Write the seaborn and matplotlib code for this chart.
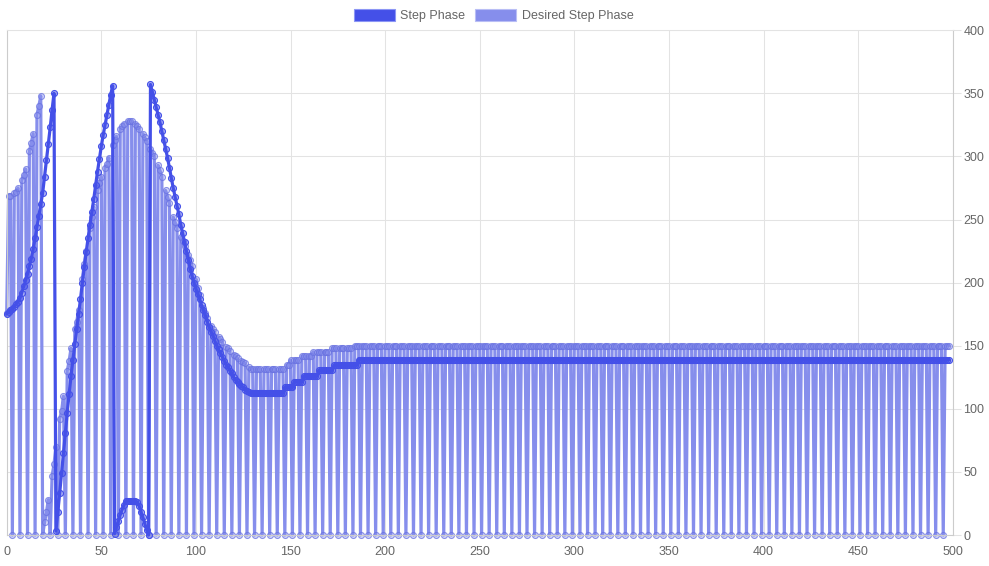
import matplotlib
matplotlib.use("Agg")
import matplotlib.pyplot as plt
from matplotlib.patches import Patch
import seaborn as sns
import pandas as pd

# ---------------- data ----------------
step_phase = (
    [175, 177, 178, 179, 181, 183, 185, 188, 192, 197,
     202, 207, 213, 219, 227, 235, 244, 253, 262, 271,
     284, 297, 310, 323, 337, 350, 3, 18, 33, 49,
     65, 81, 97, 112, 126, 139, 151, 163, 175, 187,
     200, 212, 224, 235, 246, 256, 266, 277, 288, 298,
     308, 317, 325, 333, 341, 349, 356, 1, 6, 11,
     16, 20, 24, 27, 27, 27, 27, 27, 27, 26,
     23, 18, 14, 9, 4, 0, 357, 351, 345, 339,
     333, 327, 320, 313, 306, 299, 291, 283, 275, 268,
     261, 254, 246, 239, 232, 225, 218, 211, 205, 200,
     195, 191, 187, 182, 178, 174, 169, 165, 161, 158,
     154, 150, 147, 144, 141, 138, 135, 133, 130, 128,
     125, 123, 121, 120, 118, 117, 115, 114, 113]
    + [112.5] * 18      # 129-146
    + [117] * 5         # 147-151
    + [121.5] * 5       # 152-156
    + [126] * 8         # 157-164
    + [130.5] * 8       # 165-172
    + [134.5] * 13      # 173-185
    + [139] * 313       # 186-498
)

desired_step_phase = (
    [176, 269, 269, 0,   271, 272, 275, 0,   281, 285, 290, 0,
     304, 311, 318, 0,   333, 340, 348, 0,   10, 18, 28, 0,
     47, 56, 70, 0,      92, 98, 110, 0,     130, 138, 148, 0,
     163, 169, 178, 0,   203, 215, 225, 0,   243, 252, 260, 0,
     273, 279, 284, 0,   291, 294, 299, 0,   309, 313, 316, 0,
     322, 324, 326, 0,   328, 328, 328, 0,   326, 324, 322, 0,
     318, 315, 312, 0,   306, 303, 300, 0,   293, 289, 284, 0,
     273, 268, 263, 0,   252, 248, 243, 0,   236, 233, 229, 0,
     222, 218, 213, 0,   203, 196, 190, 0,   180, 176, 172, 0,
     166, 163, 161, 0,   157, 155, 153, 0,   149, 148, 146, 0,
     143, 142, 140, 0,   138, 137, 136, 0,   133, 131.5, 131.5, 0,
     131.5, 131.5, 131.5, 0,   131.5, 131.5, 131.5, 0,
     131.5, 131.5, 131.5, 0,   131.5, 131.5, 131.5, 0,
     134.7, 134.7, 138.7, 0,   138.7, 138.7, 138.7, 0,
     141.8, 141.8, 141.8, 0,   141.8, 141.8, 145.2, 0,
     145.2, 145.2, 145.2, 0,   145.2, 145.2, 145.2, 0,
     148, 148, 148, 0,   148, 148, 148, 0,   148, 148, 148, 0,
     150, 150, 150, 0]
    + [150, 150, 150, 0] * 77
    + [150, 150, 150]
)

sample = list(range(len(step_phase)))

series_labels = ["Step Phase", "Desired Step Phase"]
x_ticks = [0, 50, 100, 150, 200, 250, 300, 350, 400, 450, 500]
y_ticks = [0, 50, 100, 150, 200, 250, 300, 350, 400]

df_step = pd.DataFrame({"x": sample, "y": step_phase})
df_des = pd.DataFrame({"x": sample, "y": desired_step_phase})

# ---------------- styling ----------------
sns.set_theme(style="white")
plt.rcParams["font.family"] = ["Liberation Sans", "DejaVu Sans"]

STEP = (68 / 255, 80 / 255, 232 / 255)
STEP_FACE = (68 / 255, 80 / 255, 232 / 255, 0.45)
DES = (134 / 255, 142 / 255, 236 / 255)
DES_EDGE = (105 / 255, 114 / 255, 225 / 255, 0.75)
DES_FACE = (134 / 255, 142 / 255, 236 / 255, 0.35)
GRID = "#e3e3e3"
TXT = "#666666"

fig = plt.figure(figsize=(9.89, 5.66), dpi=100)
ax = fig.add_axes([6.7 / 989, 31 / 566, 946 / 989, 504.8 / 566])

sns.lineplot(data=df_des, x="x", y="y", ax=ax, color=DES, linewidth=2.3,
             marker="o", markersize=4.3, markeredgewidth=0.8,
             markeredgecolor=DES_EDGE, markerfacecolor=DES_FACE,
             estimator=None, sort=False, legend=False, clip_on=False, zorder=2)
sns.lineplot(data=df_step, x="x", y="y", ax=ax, color=STEP, linewidth=2.3,
             marker="o", markersize=4.3, markeredgewidth=0.8,
             markeredgecolor=STEP, markerfacecolor=STEP_FACE,
             estimator=None, sort=False, legend=False, clip_on=False, zorder=3)

ax.set_xlim(0, 500)
ax.set_ylim(0, 400)
ax.set_xticks(x_ticks)
ax.set_yticks(y_ticks)
ax.yaxis.tick_right()
ax.set_xlabel("")
ax.set_ylabel("")
ax.grid(True, color=GRID, linewidth=0.75)
ax.set_axisbelow(True)
ax.tick_params(axis="both", length=5.8, width=0.75, color=GRID,
               labelcolor=TXT, labelsize=9, pad=2)
ax.tick_params(axis="y", left=False, right=True)
for side in ["left", "bottom", "right"]:
    ax.spines[side].set_color("#cccccc")
    ax.spines[side].set_linewidth(0.8)
ax.spines["top"].set_color(GRID)
ax.spines["top"].set_linewidth(0.75)

handles = [
    Patch(facecolor=STEP, edgecolor=(140 / 255, 150 / 255, 245 / 255), linewidth=0.8),
    Patch(facecolor=DES, edgecolor=(185 / 255, 190 / 255, 245 / 255), linewidth=0.8),
]
fig.legend(handles, series_labels, loc="center", bbox_to_anchor=(0.499, 0.9726),
           ncol=2, frameon=False, fontsize=9, labelcolor=TXT,
           handlelength=3.3, handleheight=1.1, handletextpad=0.45,
           columnspacing=0.75, borderpad=0, borderaxespad=0)

fig.savefig("out.png", dpi=100)
